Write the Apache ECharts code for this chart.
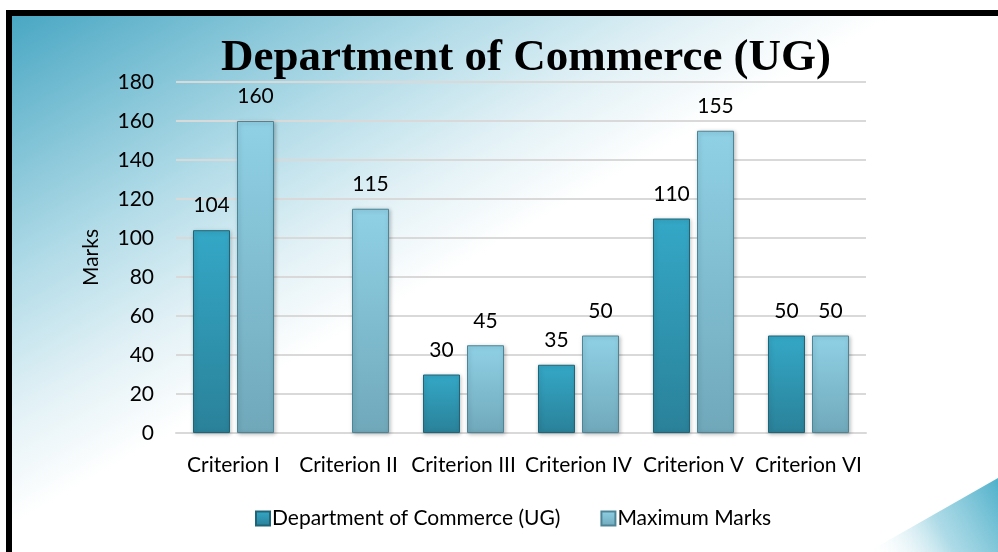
<!DOCTYPE html>
<html>
<head>
<meta charset="utf-8">
<script src="https://cdn.jsdelivr.net/npm/echarts@6/dist/echarts.min.js"></script>
<style>
  html, body { margin: 0; padding: 0; background: #fff; }
  #frame {
    position: absolute; left: 6px; top: 10px; width: 986px; height: 536px;
    border-top: 6px solid #000; border-left: 6px solid #000;
    background: linear-gradient(150deg, #49a7c3 0%, #7fc2d6 12%, #b3dce8 24%, #e2f1f6 36%, #ffffff 46%, #ffffff 100%);
    overflow: hidden;
  }
  #chart { position: absolute; left: 0; top: 0; width: 998px; height: 552px; }
</style>
</head>
<body>
<div id="frame"></div>
<div id="chart"></div>
<script>
const categories = ["Criterion I", "Criterion II", "Criterion III", "Criterion IV", "Criterion V", "Criterion VI"];
const deptValues = [104, null, 30, 35, 110, 50];
const maxValues = [160, 115, 45, 50, 155, 50];
const seriesNames = ["Department of Commerce (UG)", "Maximum Marks"];

const chart = echarts.init(document.getElementById("chart"));

const darkFill = new echarts.graphic.LinearGradient(0, 0, 0, 1, [
    { offset: 0, color: "#34a8c7" },
    { offset: 1, color: "#2a8199" },
]);
const lightFill = new echarts.graphic.LinearGradient(0, 0, 0, 1, [
    { offset: 0, color: "#90d1e6" },
    { offset: 1, color: "#70a8ba" },
]);

const labelStyle = {
    show: true,
    position: "top",
    distance: 14,
    color: "#000",
    fontFamily: "Lato",
    fontSize: 21,
};

chart.setOption({
    animation: false,
    textStyle: { fontFamily: "Lato" },
    title: {
        text: "Department of Commerce (UG)",
        left: 521,
        textAlign: "center",
        top: 31,
        textStyle: {
            fontFamily: "Liberation Serif",
            fontWeight: "bold",
            fontSize: 45,
            color: "#000",
        },
    },
    graphic: [
        {
            type: "polygon",
            silent: true,
            shape: { points: [[868, 552], [998, 478], [998, 552]] },
            style: {
                fill: new echarts.graphic.LinearGradient(0, 1, 1, 0, [
                    { offset: 0, color: "rgba(255,255,255,0)" },
                    { offset: 0.5, color: "rgba(120,195,215,0.6)" },
                    { offset: 1, color: "#4fb0ca" },
                ]),
            },
        },
    ],
    legend: {
        bottom: 18,
        left: 250,
        width: 700,
        itemWidth: 14,
        itemHeight: 14,
        itemGap: 40,
        icon: "rect",
        textStyle: { fontFamily: "Lato", fontSize: 21, color: "#000", padding: [0, 0, 0, -3] },
        data: seriesNames,
    },
    grid: { left: 176, right: 132, top: 82, bottom: 119 },
    xAxis: {
        type: "category",
        data: categories,
        axisLine: { lineStyle: { color: "#d9d9d9", width: 2 } },
        axisTick: { show: false },
        axisLabel: { color: "#000", fontFamily: "Lato", fontSize: 21, margin: 22, interval: 0 },
    },
    yAxis: {
        type: "value",
        min: 0,
        max: 180,
        interval: 20,
        name: "Marks",
        nameLocation: "middle",
        nameGap: 74,
        nameTextStyle: { color: "#000", fontFamily: "Lato", fontSize: 21 },
        axisLine: { show: false },
        axisTick: { show: false },
        axisLabel: { color: "#000", fontFamily: "Lato", fontSize: 21, margin: 22 },
        splitLine: { lineStyle: { color: "#d9d9d9", width: 2 } },
    },
    series: [
        {
            name: seriesNames[0],
            type: "bar",
            data: deptValues,
            barWidth: 37,
            barGap: "19%",
            itemStyle: {
                color: darkFill,
                borderColor: "#1f6577",
                borderWidth: 1,
                shadowBlur: 4,
                shadowColor: "rgba(0,0,0,0.25)",
                shadowOffsetX: 1,
                shadowOffsetY: 1,
            },
            label: labelStyle,
        },
        {
            name: seriesNames[1],
            type: "bar",
            data: maxValues,
            barWidth: 37,
            itemStyle: {
                color: lightFill,
                borderColor: "#4e8596",
                borderWidth: 1,
                shadowBlur: 4,
                shadowColor: "rgba(0,0,0,0.25)",
                shadowOffsetX: 1,
                shadowOffsetY: 1,
            },
            label: labelStyle,
        },
    ],
});
</script>
</body>
</html>
